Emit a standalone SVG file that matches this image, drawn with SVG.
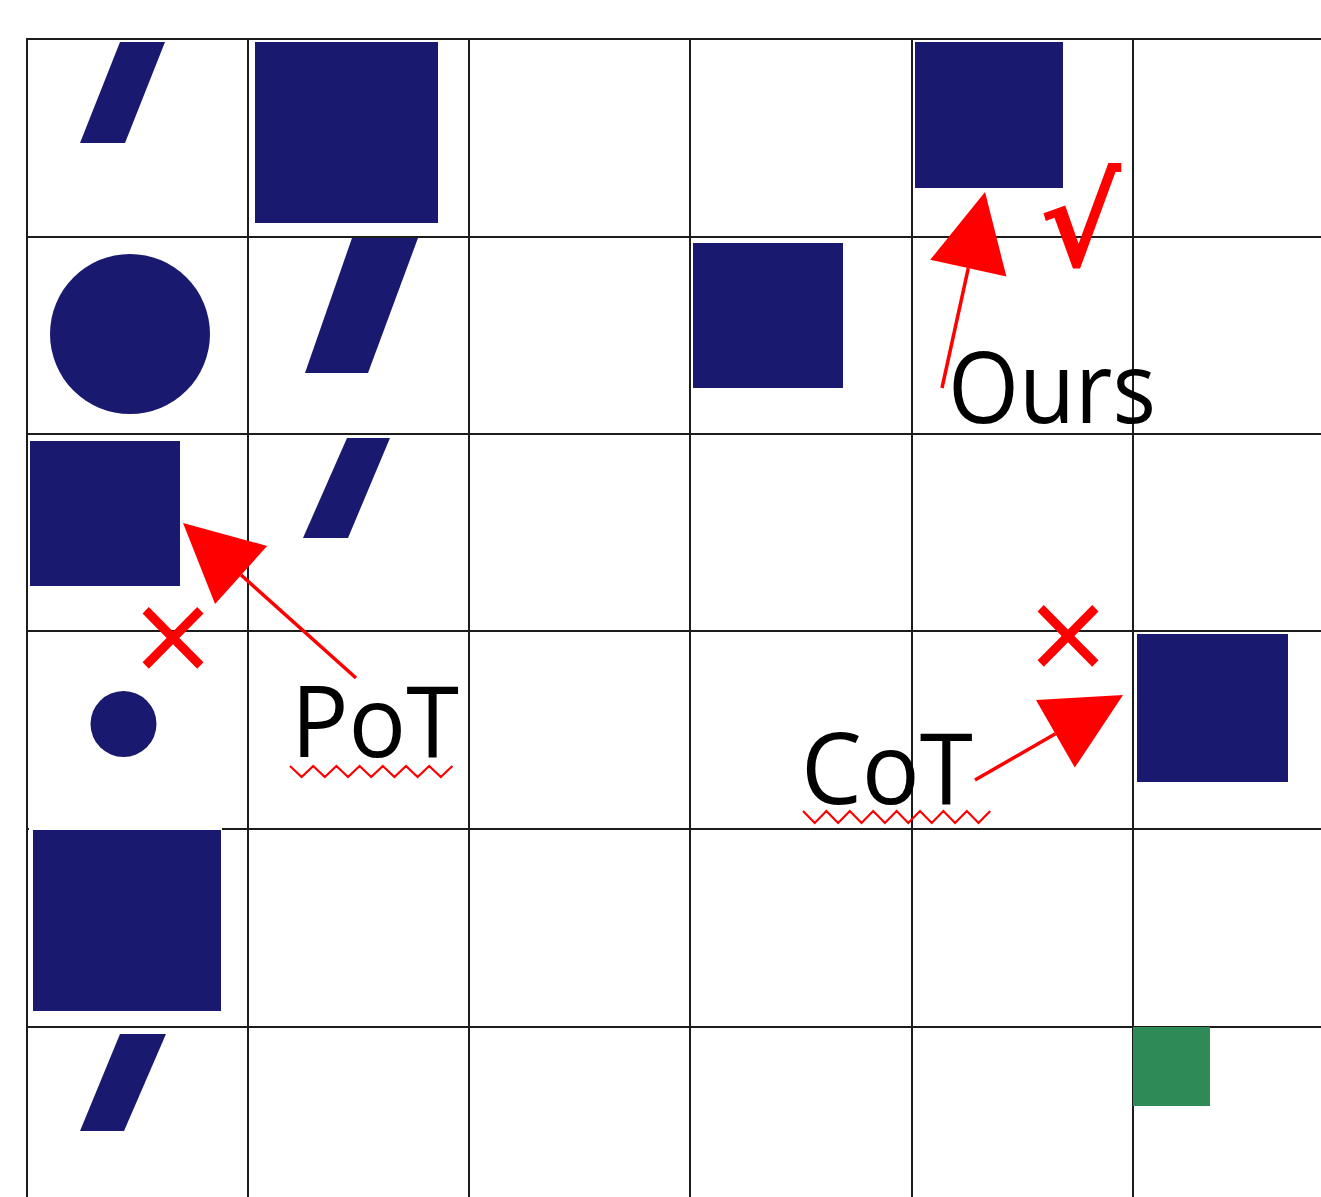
<svg xmlns="http://www.w3.org/2000/svg" width="1321" height="1197" viewBox="0 0 1321 1197">
<style>
.grid line{stroke:#1c1c1c;stroke-width:2}
.navy{fill:#191970}
.lbl{font-family:"Open Sans","Liberation Sans",sans-serif;font-size:99px;fill:#000}
.mark{font-family:"DejaVu Sans",sans-serif;fill:#ff0000}
.conn path.arrow{stroke:#ff0000;stroke-width:3.5;fill:none;marker-end:url(#ah)}
.squig{stroke:#ff0000;stroke-width:2.2;fill:none}
</style>
<defs>
<marker id="ah" markerUnits="userSpaceOnUse" markerWidth="80" markerHeight="80" refX="0" refY="39" orient="auto" overflow="visible">
<path d="M0,0 L78,39 L0,78 Z" fill="#ff0000"/>
</marker>
</defs>
<rect width="1321" height="1197" fill="#ffffff"/>
<g id="grid" class="grid">
<line x1="27" y1="39" x2="27" y2="1197"/>
<line x1="248" y1="39" x2="248" y2="1197"/>
<line x1="469" y1="39" x2="469" y2="1197"/>
<line x1="690" y1="39" x2="690" y2="1197"/>
<line x1="912" y1="39" x2="912" y2="1197"/>
<line x1="1133" y1="39" x2="1133" y2="1197"/>
<line x1="26" y1="39" x2="1321" y2="39"/>
<line x1="26" y1="237" x2="1321" y2="237"/>
<line x1="26" y1="434" x2="1321" y2="434"/>
<line x1="26" y1="631" x2="1321" y2="631"/>
<line x1="26" y1="829" x2="1321" y2="829"/>
<line x1="26" y1="1027" x2="1321" y2="1027"/>
</g>
<g id="shapes">
<polygon id="slash-r0c0" class="navy" points="120,42 165,42 125,143 80,143"/>
<rect id="square-r0c1" class="navy" x="255" y="42" width="183" height="181"/>
<rect id="square-r0c4" class="navy" x="915" y="42" width="148" height="146"/>
<circle id="circle-r1c0" class="navy" cx="130" cy="334" r="80"/>
<polygon id="slash-r1c1" class="navy" points="352,238 418,238 368,373 305,373"/>
<rect id="square-r1c3" class="navy" x="693" y="243" width="150" height="145"/>
<rect id="square-r2c0" class="navy" x="30" y="441" width="150" height="145"/>
<polygon id="slash-r2c1" class="navy" points="347,438 390,438 348,538 303,538"/>
<circle id="circle-r3c0" class="navy" cx="123.5" cy="724" r="33"/>
<rect id="square-r3c5" class="navy" x="1137" y="634" width="151" height="148"/>
<g id="square-r4c0">
<rect x="29" y="826" width="193" height="186" fill="#ffffff"/>
<rect class="navy" x="33" y="830" width="188" height="181"/>
</g>
<polygon id="slash-r5c0" class="navy" points="120,1034 166,1034 124,1131 80,1131"/>
<rect id="square-r5c5" x="1133" y="1027" width="77" height="79" fill="#2e8b57"/>
</g>
<g id="conn" class="conn">
<path class="arrow" d="M942,388 L968.3,268.2"/>
<path class="arrow" d="M356,678 L241.1,575"/>
<path class="arrow" d="M975,780 L1055.4,733.8"/>
</g>
<g id="label-ours">
<text class="lbl" x="948" y="423" textLength="208" lengthAdjust="spacingAndGlyphs">Ours</text>
<text class="mark" x="1039" y="266" font-size="123" font-weight="bold">√</text>
</g>
<g id="label-pot">
<text class="lbl" x="291" y="757" textLength="168" lengthAdjust="spacingAndGlyphs">PoT</text>
<polyline class="squig" points="290,766 301.6,777 313.2,766 324.8,777 336.4,766 348,777 359.6,766 371.2,777 382.8,766 394.4,777 406,766 417.6,777 429.2,766 440.8,777 452.4,766"/>
<text class="mark" x="173" y="672" font-size="108" text-anchor="middle">×</text>
</g>
<g id="label-cot">
<text class="lbl" x="801" y="804" textLength="172" lengthAdjust="spacingAndGlyphs">CoT</text>
<polyline class="squig" points="803,811 814.7,823 826.4,811 838.1,823 849.8,811 861.5,823 873.2,811 884.9,823 896.6,811 908.3,823 920,811 931.7,823 943.4,811 955.1,823 966.8,811 978.5,823 990.2,811"/>
<text class="mark" x="1068" y="670" font-size="108" text-anchor="middle">×</text>
</g>
</svg>
